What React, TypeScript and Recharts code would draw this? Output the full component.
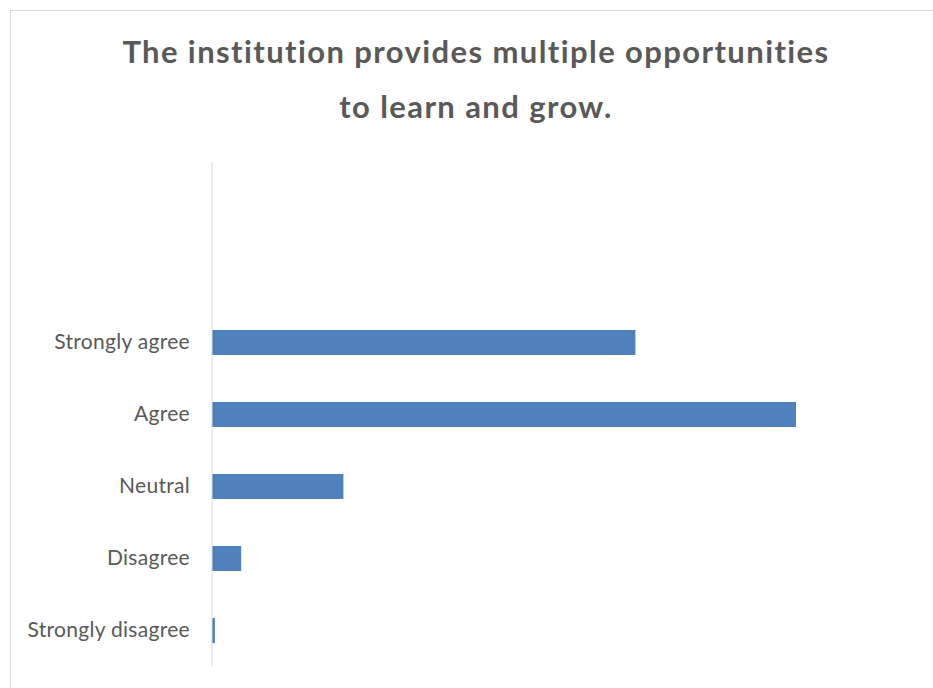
import { BarChart, Bar, XAxis, YAxis } from "recharts";

// top two slots are empty in the original chart
const categories = ["", "", "Strongly agree", "Agree", "Neutral", "Disagree", "Strongly disagree"];
const responses = [null, null, 58, 80, 18, 4, 0.4];

const chartData = categories.map((label, i) => ({
  label,
  value: responses[i],
}));

const BAR_COLOR = "#4f81bd";
const TEXT_COLOR = "#595959";

export default function App() {
  return (
    <div
      style={{
        position: "absolute",
        left: 0,
        top: 0,
        width: 933,
        height: 688,
        overflow: "hidden",
        background: "white",
        fontFamily: "Lato, sans-serif",
      }}
    >
      <div
        style={{
          position: "absolute",
          left: 10,
          top: 10,
          width: 940,
          height: 700,
          border: "1px solid #d9d9d9",
        }}
      />
      <div
        style={{
          position: "absolute",
          left: 10,
          top: 24,
          width: 932,
          textAlign: "center",
          fontSize: 31,
          fontWeight: 700,
          letterSpacing: 1.4,
          lineHeight: "55px",
          color: TEXT_COLOR,
        }}
      >
        The institution provides multiple opportunities
        <br />
        to learn and grow.
      </div>
      <div style={{ position: "absolute", left: 0, top: 0 }}>
        <BarChart
          width={933}
          height={688}
          data={chartData}
          layout="vertical"
          margin={{ top: 162, right: 64, bottom: 22, left: 12 }}
        >
          <XAxis type="number" domain={[0, 90]} hide />
          <YAxis
            type="category"
            dataKey="label"
            width={200}
            tickSize={0}
            tickMargin={22}
            axisLine={{ stroke: "#d9d9d9" }}
            tickLine={false}
            tick={{ fill: TEXT_COLOR, fontSize: 21, letterSpacing: 0.3, fontFamily: "Lato, sans-serif" }}
          />
          <Bar dataKey="value" fill={BAR_COLOR} barSize={25} isAnimationActive={false} />
        </BarChart>
      </div>
    </div>
  );
}
